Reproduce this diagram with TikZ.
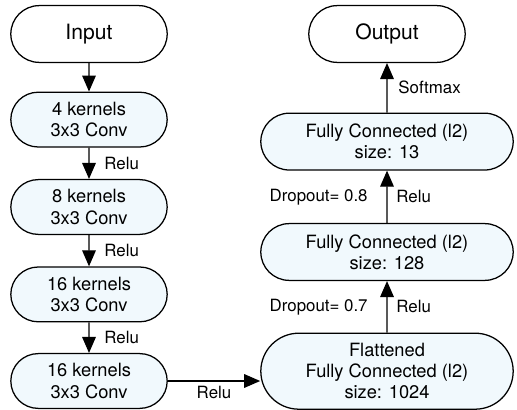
\documentclass[tikz,border=0pt]{standalone}
\usepackage{fontspec}
\setmainfont{TeX Gyre Heros}
\usepackage{xcolor}
\usepackage{tikz}
\usetikzlibrary{positioning,arrows.meta,calc,shapes.misc}
\definecolor{layerFill}{HTML}{F1F9FD}

\begin{document}
\begin{tikzpicture}[
  every node/.style={font=\fontsize{13}{15}\selectfont},
  layer/.style={draw=black, line width=0.9pt, fill=layerFill, rounded rectangle,
               minimum width=4.05cm, minimum height=1.37cm, align=center, inner sep=2pt},
  endpoint/.style={layer, fill=white, minimum height=1.42cm,
               font=\fontsize{15}{17}\selectfont},
  fclayer/.style={layer, minimum width=6.45cm, minimum height=1.42cm},
  arrow/.style={-{Triangle[length=4mm,width=3.4mm]}, line width=0.9pt},
  lbl/.style={font=\fontsize{12}{14}\selectfont, inner sep=2pt}
]
  \useasboundingbox (0,0) rectangle (12.925,-10.25);

  % left column: conv stack
  \node[endpoint] (in)   at (2.225,-0.85)  {Input};
  \node[layer]    (c1)   at (2.225,-2.99)  {4 kernels\\3x3 Conv};
  \node[layer]    (c2)   at (2.225,-5.175) {8 kernels\\3x3 Conv};
  \node[layer]    (c3)   at (2.225,-7.36)  {16 kernels\\3x3 Conv};
  \node[layer]    (c4)   at (2.225,-9.525) {16 kernels\\3x3 Conv};

  % right column: dense stack
  \node[endpoint] (out)  at (9.675,-0.85)  {Output};
  \node[fclayer]  (fc13) at (9.675,-3.54)  {Fully Connected (l2)\\size: 13};
  \node[fclayer]  (fc128) at (9.675,-6.3)  {Fully Connected (l2)\\size: 128};
  \node[fclayer, minimum height=1.9cm] (flat) at (9.675,-9.28) {Flattened\\Fully Connected (l2)\\size: 1024};

  \draw[arrow] (in) -- (c1);
  \draw[arrow] (c1) -- node[lbl, right=0.3cm] {Relu} (c2);
  \draw[arrow] (c2) -- node[lbl, right=0.3cm] {Relu} (c3);
  \draw[arrow] (c3) -- node[lbl, right=0.3cm] {Relu} (c4);
  \draw[arrow] (c4.east) -- node[lbl, below=1pt] {Relu} (c4.east -| flat.west);

  \draw[arrow] (flat) -- node[lbl, right=0.15cm] {Relu} node[lbl, left=0.4cm] {Dropout= 0.7} (fc128);
  \draw[arrow] (fc128) -- node[lbl, right=0.15cm] {Relu} node[lbl, left=0.4cm] {Dropout= 0.8} (fc13);
  \draw[arrow] (fc13) -- node[lbl, right=0.2cm] {Softmax} (out);
\end{tikzpicture}
\end{document}
